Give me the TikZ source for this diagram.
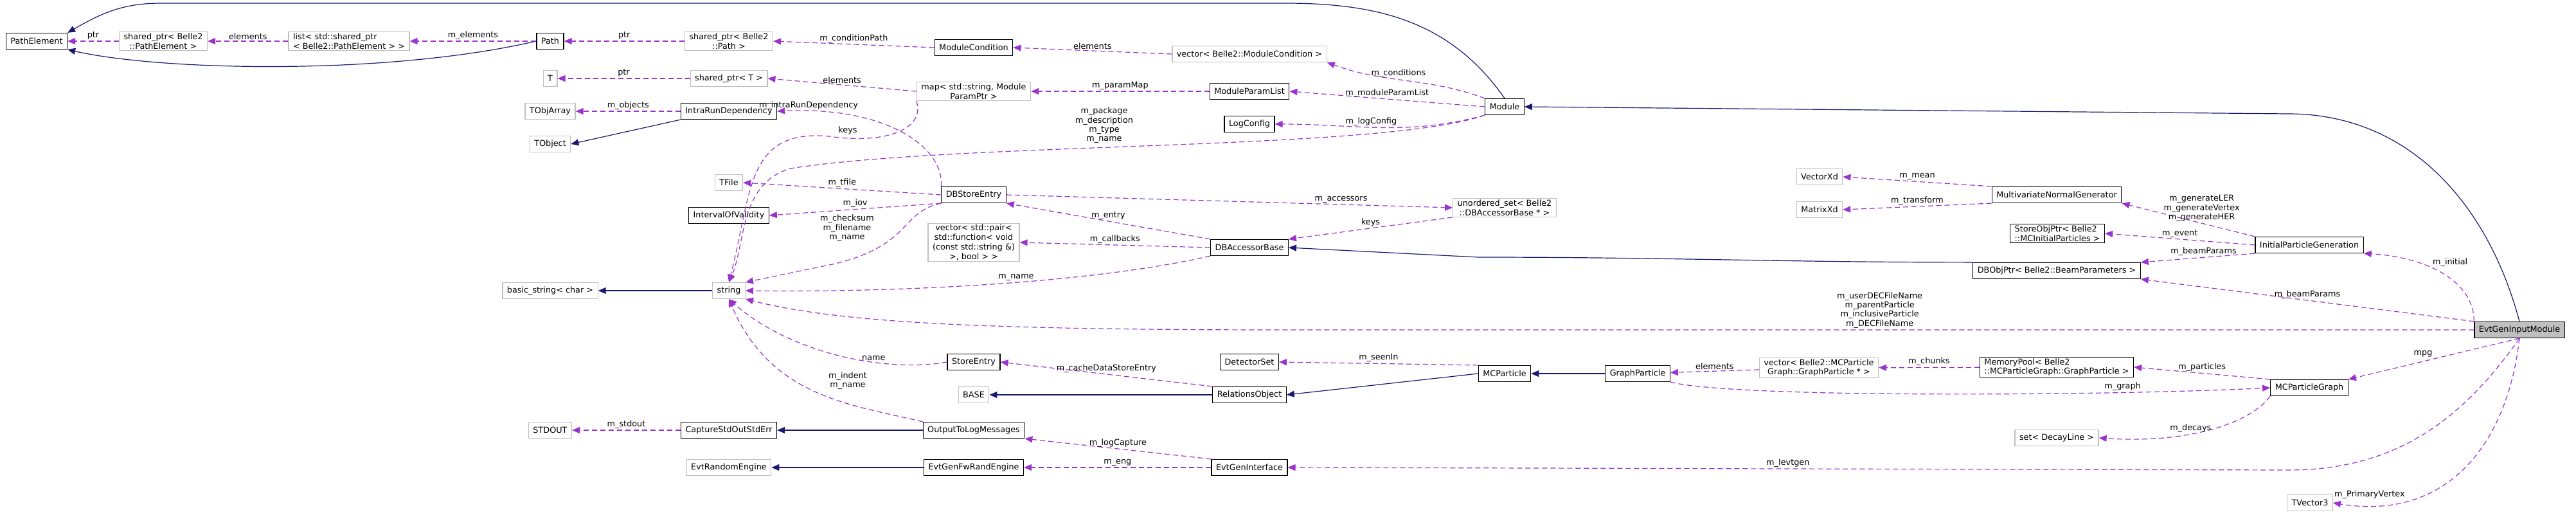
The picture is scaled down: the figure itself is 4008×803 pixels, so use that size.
\documentclass[tikz,border=0pt]{standalone}
\usepackage{fontspec}
\setmainfont{DejaVu Sans}
\usetikzlibrary{
    arrows.meta      % For the triangular arrow tips
}
\definecolor{usecolor}{HTML}{9A32CD}
\definecolor{inhcolor}{HTML}{191970}
\definecolor{extgray}{HTML}{BFBFBF}

\begin{document}
\begin{tikzpicture}[
    x=0.5pt, y=-0.5pt,
    % Style for documented classes
    cls_style/.style={draw=black, semithick, font=\fontsize{6.4}{7.4}\selectfont, align=center,
        minimum height=12.5pt, inner xsep=3.5pt, inner ysep=1pt},
    % Style for external classes
    ext_style/.style={cls_style, draw=extgray},
    % Style for the class of the page
    main_style/.style={cls_style, fill=extgray},
    % Style for usage relations
    use_arrow/.style={usecolor, dashed, dash pattern=on 4pt off 2.5pt, semithick, -{Triangle[length=6pt, width=5pt]}},
    % Style for inheritance
    inh_arrow/.style={inhcolor, semithick, -{Triangle[length=6pt, width=5pt]}},
    % Style for the edge labels
    lbl_style/.style={black, font=\fontsize{6.4}{7.2}\selectfont, align=center, inner sep=1pt}
]
    \useasboundingbox (0,0) rectangle (4008,803);

    % 1. Nodes, column by column.
    \node[cls_style] (path_element) at (57,64) {PathElement};
    \node[ext_style] (sp_path_element) at (254,64) {shared\_ptr< Belle2\\::PathElement >};
    \node[ext_style, align=left] (list_path_element) at (543,64) {list< std::shared\_ptr\\< Belle2::PathElement > >};

    \node[cls_style] (path) at (856,64) {Path};
    \node[ext_style] (t_class) at (856,122) {T};
    \node[ext_style] (tobjarray) at (856,173) {TObjArray};
    \node[ext_style] (tobject) at (856,224) {TObject};
    \node[ext_style] (basic_string) at (856,452) {basic\_string< char >};
    \node[ext_style] (stdout_ref) at (856,669) {STDOUT};

    \node[ext_style] (sp_path) at (1134,64) {shared\_ptr< Belle2\\::Path >};
    \node[ext_style] (sp_t) at (1134,122) {shared\_ptr< T >};
    \node[cls_style] (intra_run) at (1134,173) {IntraRunDependency};
    \node[ext_style] (tfile) at (1134,284) {TFile};
    \node[cls_style] (iov) at (1134,335) {IntervalOfValidity};
    \node[ext_style] (string_ref) at (1134,452) {string};
    \node[cls_style] (capture) at (1134,669) {CaptureStdOutStdErr};
    \node[ext_style] (evt_random) at (1134,727) {EvtRandomEngine};

    \node[cls_style] (module_cond) at (1515,74) {ModuleCondition};
    \node[ext_style] (param_map) at (1515,142) {map< std::string, Module\\ParamPtr >};
    \node[cls_style] (db_store_entry) at (1515,303) {DBStoreEntry};
    \node[ext_style] (callbacks_vec) at (1515,377) {vector< std::pair<\\std::function< void\\(const std::string \&)\\>, bool > >};
    \node[cls_style] (store_entry) at (1515,563) {StoreEntry};
    \node[ext_style] (base_ref) at (1515,614) {BASE};
    \node[cls_style] (output_log) at (1515,669) {OutputToLogMessages};
    \node[cls_style] (fw_rand) at (1515,727) {EvtGenFwRandEngine};

    \node[ext_style] (cond_vec) at (1944,84) {vector< Belle2::ModuleCondition >};
    \node[cls_style] (param_list) at (1944,142) {ModuleParamList};
    \node[cls_style] (log_config) at (1944,193) {LogConfig};
    \node[cls_style] (db_accessor) at (1944,385) {DBAccessorBase};
    \node[cls_style] (detector_set) at (1944,563) {DetectorSet};
    \node[cls_style] (relations_obj) at (1944,614) {RelationsObject};
    \node[cls_style] (evtgen_iface) at (1944,727) {EvtGenInterface};

    \node[cls_style] (module) at (2341,166) {Module};
    \node[ext_style] (accessor_set) at (2341,323) {unordered\_set< Belle2\\::DBAccessorBase * >};
    \node[cls_style] (mc_particle) at (2341,581) {MCParticle};
    \node[cls_style] (graph_particle) at (2548,581) {GraphParticle};
    \node[ext_style] (gp_vec) at (2830,572) {vector< Belle2::MCParticle\\Graph::GraphParticle * >};
    \node[ext_style] (vector_xd) at (2831,275) {VectorXd};
    \node[ext_style] (matrix_xd) at (2831,326) {MatrixXd};

    \node[cls_style] (mvn_gen) at (3200,303) {MultivariateNormalGenerator};
    \node[cls_style, align=left] (store_obj) at (3201,363) {StoreObjPtr< Belle2\\::MCInitialParticles >};
    \node[cls_style] (db_obj) at (3200,421) {DBObjPtr< Belle2::BeamParameters >};
    \node[cls_style, align=left] (memory_pool) at (3200,571) {MemoryPool< Belle2\\::MCParticleGraph::GraphParticle >};
    \node[ext_style] (decay_set) at (3200,681) {set< DecayLine >};
    \node[cls_style] (initial_gen) at (3593,381) {InitialParticleGeneration};
    \node[cls_style] (mc_graph) at (3593,603) {MCParticleGraph};
    \node[ext_style] (tvector) at (3594,782) {TVector3};
    \node[main_style] (evtgen_input) at (3920,513) {EvtGenInputModule};

    % Bends of the long connectors.
    \coordinate (top_right) at (2000,5);
    \coordinate (top_left) at (250,5);
    \coordinate (module_bend) at (3560,177);
    \coordinate (iface_bend) at (3560,731);
    \coordinate (dec_bend) at (2000,513);

    % 2. Inheritance.
    \draw[inh_arrow] (path.west) .. controls (600,118) and (250,110) .. (path_element.south east);
    \draw[inh_arrow] (module.north) to[out=125, in=0] (top_right) -- (top_left) to[out=180, in=30] (path_element.north east);
    \draw[inh_arrow] (intra_run.south west) -- (tobject.east);
    \draw[inh_arrow] (string_ref) -- (basic_string);
    \draw[inh_arrow] (output_log) -- (capture);
    \draw[inh_arrow] (fw_rand) -- (evt_random);
    \draw[inh_arrow] (relations_obj) -- (base_ref);
    \draw[inh_arrow] (mc_particle.west) -- (relations_obj.east);
    \draw[inh_arrow] (graph_particle) -- (mc_particle);
    \draw[inh_arrow] (db_obj.north west) to[out=180, in=0] (2300,400) -- (db_accessor.east);
    \draw[inh_arrow] (evtgen_input.north) to[out=105, in=0] (module_bend) -- (module.east);

    % 3. Usage, upper part.
    \draw[use_arrow] (sp_path_element) -- node[lbl_style, above] {ptr} (path_element);
    \draw[use_arrow] (list_path_element) -- node[lbl_style, above] {elements} (sp_path_element);
    \draw[use_arrow] (path) -- node[lbl_style, above] {m\_elements} (list_path_element);
    \draw[use_arrow] (sp_path) -- node[lbl_style, above] {ptr} (path);
    \draw[use_arrow] (module_cond.west) -- node[lbl_style, above] {m\_conditionPath} (sp_path.east);
    \draw[use_arrow] (cond_vec.west) -- node[lbl_style, above] {elements} (module_cond.east);
    \draw[use_arrow] (module.north west) to[out=160, in=-20] node[lbl_style, above, pos=0.55] {m\_conditions} (cond_vec.south east);
    \draw[use_arrow] (sp_t) -- node[lbl_style, above] {ptr} (t_class);
    \draw[use_arrow] (param_map.west) -- node[lbl_style, above] {elements} (sp_t.east);
    \draw[use_arrow] (param_list) -- node[lbl_style, above] {m\_paramMap} (param_map);
    \draw[use_arrow] (module.west) -- node[lbl_style, above] {m\_moduleParamList} (param_list.east);
    \draw[use_arrow] (module.south west) to[out=195, in=0] node[lbl_style, above, pos=0.55] {m\_logConfig} (log_config.east);
    \draw[use_arrow] (module.south west) .. controls (2150,235) and (1500,220) .. (1230,262)
        .. controls (1150,285) and (1160,380) .. (string_ref.north);
    \node[lbl_style] (string_lbl_a) at (1718,195) {m\_package\\m\_description\\m\_type\\m\_name};
    \draw[use_arrow] (param_map.south west) .. controls (1440,200) and (1380,225) .. (1290,212)
        .. controls (1160,200) and (1170,300) .. (string_ref.north);
    \node[lbl_style] (keys_lbl) at (1319,203) {keys};
    \draw[use_arrow] (intra_run) -- node[lbl_style, above] {m\_objects} (tobjarray);
    \draw[use_arrow] (db_store_entry.north west) .. controls (1470,230) and (1380,165) .. node[lbl_style, above, pos=0.9] {m\_intraRunDependency} (intra_run.east);
    \draw[use_arrow] (db_store_entry.west) -- node[lbl_style, above] {m\_tfile} (tfile.east);
    \draw[use_arrow] (db_store_entry.south west) -- node[lbl_style, above] {m\_iov} (iov.east);
    \draw[use_arrow] (db_store_entry.south west) .. controls (1400,330) and (1420,380) .. (1300,410) -- (string_ref.north east);
    \node[lbl_style] (string_lbl_b) at (1318,355) {m\_checksum\\m\_filename\\m\_name};
    \draw[use_arrow] (db_store_entry.east) -- node[lbl_style, above, pos=0.75] {m\_accessors} (accessor_set.west);
    \draw[use_arrow] (db_accessor.north west) -- node[lbl_style, above] {m\_entry} (db_store_entry.south east);
    \draw[use_arrow] (db_accessor.west) -- node[lbl_style, above] {m\_callbacks} (callbacks_vec.east);
    \draw[use_arrow] (db_accessor.south west) .. controls (1700,440) and (1400,455) .. node[lbl_style, above, pos=0.45] {m\_name} (string_ref.east);
    \draw[use_arrow] (accessor_set.south west) -- node[lbl_style, above] {keys} (db_accessor.north east);

    % 4. Usage, lower part.
    \draw[use_arrow] (store_entry.west) .. controls (1380,580) and (1230,550) .. node[lbl_style, above, pos=0.35] {name} (string_ref.south);
    \draw[use_arrow] (output_log.north west) .. controls (1330,630) and (1200,620) .. (string_ref.south);
    \node[lbl_style] (string_lbl_c) at (1319,592) {m\_indent\\m\_name};
    \draw[use_arrow] (capture) -- node[lbl_style, above] {m\_stdout} (stdout_ref);
    \draw[use_arrow] (relations_obj.north west) -- node[lbl_style, above] {m\_cacheDataStoreEntry} (store_entry.east);
    \draw[use_arrow] (evtgen_iface.north west) -- node[lbl_style, above] {m\_logCapture} (output_log.south east);
    \draw[use_arrow] (evtgen_iface) -- node[lbl_style, above] {m\_eng} (fw_rand);
    \draw[use_arrow] (mc_particle.north west) -- node[lbl_style, above] {m\_seenIn} (detector_set.east);
    \draw[use_arrow] (gp_vec) -- node[lbl_style, above] {elements} (graph_particle);
    \draw[use_arrow] (memory_pool) -- node[lbl_style, above] {m\_chunks} (gp_vec);
    \draw[use_arrow] (graph_particle.south east) .. controls (2700,620) and (3300,615) .. node[lbl_style, above, pos=0.75] {m\_graph} (mc_graph.west);
    \draw[use_arrow] (mc_graph.north west) -- node[lbl_style, above] {m\_particles} (memory_pool.east);
    \draw[use_arrow] (mc_graph.south west) .. controls (3500,660) and (3400,690) .. node[lbl_style, above, pos=0.6] {m\_decays} (decay_set.east);
    \draw[use_arrow] (mvn_gen.north west) -- node[lbl_style, above] {m\_mean} (vector_xd.east);
    \draw[use_arrow] (mvn_gen.south west) -- node[lbl_style, above] {m\_transform} (matrix_xd.east);
    \draw[use_arrow] (initial_gen.north west) -- node[lbl_style, above, pos=0.4] {m\_generateLER\\m\_generateVertex\\m\_generateHER} (mvn_gen.south east);
    \draw[use_arrow] (initial_gen.west) -- node[lbl_style, above] {m\_event} (store_obj.east);
    \draw[use_arrow] (initial_gen.south west) -- node[lbl_style, above, pos=0.45] {m\_beamParams} (db_obj.north east);

    % 5. Usage by EvtGenInputModule.
    \draw[use_arrow] (evtgen_input.north west) .. controls (3850,440) and (3780,400) .. node[lbl_style, above right, pos=0.6] {m\_initial} (initial_gen.south east);
    \draw[use_arrow] (evtgen_input.north west) -- node[lbl_style, above] {m\_beamParams} (db_obj.south east);
    \draw[use_arrow] (evtgen_input.west) -- node[lbl_style, above] {m\_userDECFileName\\m\_parentParticle\\m\_inclusiveParticle\\m\_DECFileName} (dec_bend)
        .. controls (1500,513) and (1300,500) .. (string_ref.south east);
    \draw[use_arrow] (evtgen_input.south) -- node[lbl_style, above left] {mpg} (mc_graph.north east);
    \draw[use_arrow] (evtgen_input.south) to[out=-125, in=0] (iface_bend) -- node[lbl_style, above] {m\_Ievtgen} (evtgen_iface.east);
    \draw[use_arrow] (evtgen_input.south) .. controls (3900,700) and (3800,810) .. node[lbl_style, above left, pos=0.75] {m\_PrimaryVertex} (tvector.east);
\end{tikzpicture}
\end{document}
